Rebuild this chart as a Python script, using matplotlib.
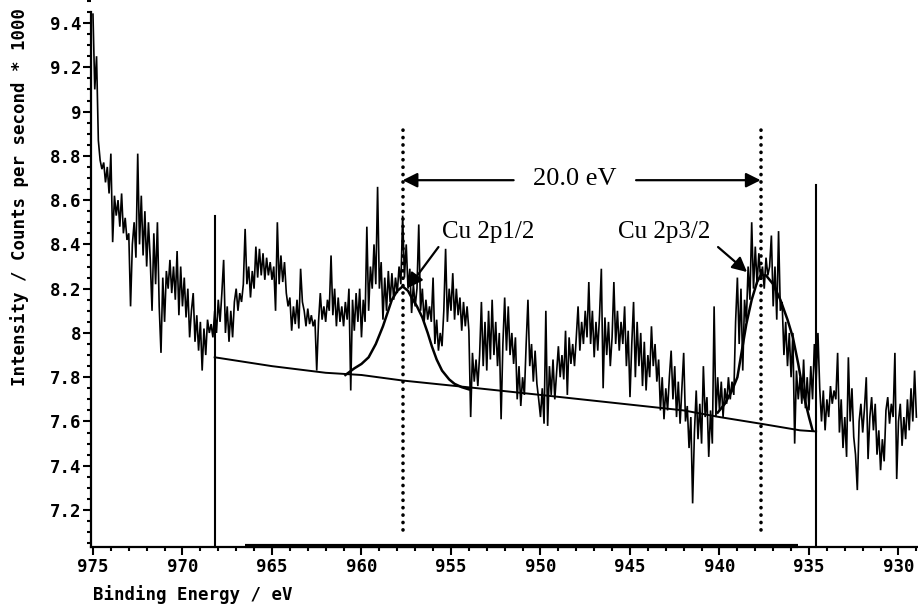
import numpy as np
import matplotlib
matplotlib.use("Agg")
import matplotlib.pyplot as plt
from matplotlib.ticker import MultipleLocator, FixedLocator, FixedFormatter

# ---------------- data ----------------
E_START = 975.0   # eV, first channel
E_STEP = 0.1      # eV per channel (decreasing binding energy)

counts = [
    9.44, 9.10, 9.25, 8.87, 8.78, 8.74, 8.77, 8.68, 8.75, 8.63,   # 975.0-974.1
    8.81, 8.41, 8.62, 8.53, 8.60, 8.48, 8.63, 8.45, 8.52, 8.42,   # 974.0-973.1
    8.45, 8.12, 8.40, 8.50, 8.34, 8.81, 8.40, 8.62, 8.35, 8.55,   # 973.0-972.1
    8.30, 8.50, 8.33, 8.10, 8.45, 8.22, 8.50, 8.12, 7.91, 8.25,   # 972.0-971.1
    8.05, 8.28, 8.20, 8.33, 8.18, 8.30, 8.15, 8.37, 8.08, 8.30,   # 971.0-970.1
    8.12, 8.25, 8.07, 8.20, 7.98, 8.10, 8.18, 7.96, 8.08, 7.92,   # 970.0-969.1
    8.05, 7.83, 8.02, 7.90, 8.06, 8.00, 8.04, 7.98, 8.10, 8.00,   # 969.0-968.1
    8.15, 8.05, 8.18, 8.33, 8.00, 8.12, 7.96, 8.10, 7.98, 8.14,   # 968.0-967.1
    8.20, 8.10, 8.18, 8.14, 8.22, 8.47, 8.22, 8.30, 8.16, 8.28,   # 967.0-966.1
    8.20, 8.39, 8.25, 8.38, 8.26, 8.36, 8.24, 8.34, 8.26, 8.32,   # 966.0-965.1
    8.24, 8.30, 8.10, 8.50, 8.22, 8.35, 8.23, 8.32, 8.18, 8.12,   # 965.0-964.1
    8.16, 8.01, 8.12, 8.04, 8.15, 8.02, 8.29, 8.14, 8.10, 8.03,   # 964.0-963.1
    8.11, 8.04, 8.08, 8.03, 8.06, 7.83, 8.05, 8.18, 8.06, 8.12,   # 963.0-962.1
    8.05, 8.15, 8.10, 8.35, 8.08, 8.20, 8.03, 8.16, 8.05, 8.12,   # 962.0-961.1
    8.03, 8.14, 8.06, 8.20, 7.74, 8.15, 8.01, 8.18, 8.05, 8.20,   # 961.0-960.1
    7.98, 8.15, 8.05, 8.48, 8.10, 8.30, 8.20, 8.40, 8.22, 8.66,   # 960.0-959.1
    8.20, 8.32, 8.06, 8.25, 8.10, 8.28, 8.14, 8.27, 8.15, 8.25,   # 959.0-958.1
    8.18, 8.30, 8.22, 8.53, 8.25, 8.40, 8.20, 8.29, 8.09, 8.22,   # 958.0-957.1
    8.12, 8.20, 8.49, 8.10, 8.20, 8.05, 8.15, 8.06, 8.12, 8.05,   # 957.0-956.1
    8.25, 7.95, 8.06, 7.92, 8.00, 7.94, 8.10, 8.38, 8.05, 8.20,   # 956.0-955.1
    8.10, 8.27, 8.06, 8.20, 8.08, 8.16, 8.01, 8.14, 8.03, 8.12,   # 955.0-954.1
    8.01, 7.62, 7.91, 7.78, 7.88, 7.76, 7.90, 8.14, 7.85, 8.05,   # 954.0-953.1
    7.83, 8.10, 7.88, 8.15, 7.90, 8.05, 7.85, 8.00, 7.61, 7.95,   # 953.0-952.1
    8.16, 7.92, 8.12, 7.90, 8.00, 7.86, 7.98, 7.70, 7.85, 7.67,   # 952.0-951.1
    7.80, 7.72, 7.95, 8.15, 7.85, 7.95, 7.78, 7.92, 7.77, 7.70,   # 951.0-950.1
    7.62, 7.75, 7.59, 8.10, 7.58, 7.85, 7.72, 7.88, 7.70, 7.82,   # 950.0-949.1
    7.94, 7.80, 7.90, 7.79, 8.01, 7.72, 7.98, 7.86, 7.95, 7.85,   # 949.0-948.1
    7.98, 8.12, 7.92, 8.05, 7.95, 8.10, 7.98, 8.23, 7.95, 8.10,   # 948.0-947.1
    7.89, 8.05, 7.92, 8.08, 8.29, 7.75, 8.07, 7.90, 8.05, 7.85,   # 947.0-946.1
    7.98, 8.23, 7.95, 8.10, 7.92, 8.05, 7.95, 8.12, 7.85, 8.01,   # 946.0-945.1
    7.71, 7.95, 8.14, 7.80, 8.05, 7.85, 8.00, 7.76, 7.96, 7.74,   # 945.0-944.1
    7.90, 7.80, 8.03, 7.85, 7.95, 7.78, 7.88, 7.65, 7.80, 7.61,   # 944.0-943.1
    7.75, 7.65, 7.80, 7.92, 7.70, 7.85, 7.62, 7.78, 7.59, 7.75,   # 943.0-942.1
    7.91, 7.60, 7.67, 7.48, 7.62, 7.23, 7.55, 7.74, 7.52, 7.68,   # 942.0-941.1
    7.50, 7.85, 7.62, 7.71, 7.44, 7.65, 7.50, 8.12, 7.62, 7.80,   # 941.0-940.1
    7.65, 7.78, 7.62, 7.75, 7.68, 7.80, 7.70, 7.78, 7.72, 8.05,   # 940.0-939.1
    8.25, 7.95, 8.20, 7.83, 8.15, 8.05, 8.30, 8.15, 8.50, 8.20,   # 939.0-938.1
    8.39, 8.22, 8.36, 8.24, 8.30, 8.20, 8.34, 8.26, 8.30, 8.44,   # 938.0-937.1
    8.12, 8.30, 8.06, 8.46, 8.10, 8.14, 7.90, 8.05, 7.85, 8.00,   # 937.0-936.1
    7.80, 8.00, 7.50, 7.83, 7.70, 7.80, 7.68, 7.88, 7.66, 7.80,   # 936.0-935.1
    7.65, 7.85, 7.70, 7.95, 7.78, 8.00, 7.75, 7.60, 7.74, 7.56,   # 935.0-934.1
    7.70, 7.62, 7.76, 7.68, 7.74, 7.70, 7.91, 7.55, 7.70, 7.48,   # 934.0-933.1
    7.62, 7.44, 7.89, 7.60, 7.75, 7.53, 7.45, 7.29, 7.60, 7.68,   # 933.0-932.1
    7.55, 7.66, 7.80, 7.43, 7.62, 7.71, 7.56, 7.68, 7.45, 7.56,   # 932.0-931.1
    7.38, 7.52, 7.42, 7.65, 7.71, 7.59, 7.68, 7.62, 7.91, 7.34,   # 931.0-930.1
    7.60, 7.68, 7.49, 7.62, 7.52, 7.70, 7.56, 7.75, 7.60, 7.83,   # 930.0-929.1
    7.62,                                                         # 929.0
]

# linear (Shirley-like) background under the fit
baseline_e = [968.2, 965.0, 962.0, 960.0, 957.7, 953.5, 950.0, 946.0, 942.0, 940.0, 937.7, 935.5, 934.6]
baseline_v = [7.89, 7.85, 7.82, 7.81, 7.785, 7.75, 7.72, 7.685, 7.65, 7.62, 7.59, 7.56, 7.555]

# fitted Cu 2p1/2 component
peak1_e = [960.9, 960.4, 960.0, 959.6, 959.2, 958.8, 958.3, 958.0, 957.7, 957.4, 957.2,
           956.9, 956.6, 956.3, 956.07, 955.8, 955.5, 955.1, 954.8, 954.4, 954.0]
peak1_v = [7.81, 7.84, 7.86, 7.89, 7.95, 8.03, 8.15, 8.19, 8.21, 8.19, 8.16,
           8.12, 8.07, 8.00, 7.94, 7.88, 7.83, 7.79, 7.77, 7.755, 7.745]

# fitted Cu 2p3/2 component
peak2_e = [940.1, 939.7, 939.3, 939.0, 938.75, 938.5, 938.2, 937.9, 937.7, 937.4,
           937.0, 936.6, 936.2, 935.9, 935.6, 935.3, 935.0, 934.8]
peak2_v = [7.64, 7.68, 7.74, 7.80, 7.92, 8.04, 8.15, 8.23, 8.26, 8.26,
           8.22, 8.15, 8.06, 7.98, 7.86, 7.72, 7.62, 7.56]

peak_positions = [957.7, 937.7]      # eV, dotted markers
marker_lines = [968.2, 934.6]        # region limits
marker_tops = [8.53, 8.67]

y_ticks = [7.2, 7.4, 7.6, 7.8, 8.0, 8.2, 8.4, 8.6, 8.8, 9.0, 9.2, 9.4]
y_ticklabels = ["7.2", "7.4", "7.6", "7.8", "8", "8.2", "8.4", "8.6", "8.8", "9", "9.2", "9.4"]
x_ticks = [975, 970, 965, 960, 955, 950, 945, 940, 935, 930]
x_ticklabels = [str(v) for v in x_ticks]

# ---------------- figure ----------------
MONO = ["DejaVu Sans Mono"]
SERIF = ["Liberation Serif", "DejaVu Serif"]

fig = plt.figure(figsize=(9.18, 6.07), dpi=100)
ax = fig.add_axes([91 / 918, 1 - 547 / 607, 1 - 91 / 918, 547 / 607])

XMIN, XMAX = 975.11, 928.91
YMIN, YMAX = 7.033, 9.504
ax.set_xlim(XMIN, XMAX)
ax.set_ylim(YMIN, YMAX)

energy = E_START - E_STEP * np.arange(len(counts))
ax.plot(energy, counts, color="black", lw=1.2, solid_joinstyle="miter")

ax.plot(baseline_e, baseline_v, color="black", lw=1.4)
ax.plot(peak1_e, peak1_v, color="black", lw=1.8)
ax.plot(peak2_e, peak2_v, color="black", lw=1.8)

for xe, top in zip(marker_lines, marker_tops):
    ax.plot([xe, xe], [YMIN, top], color="black", lw=1.5, clip_on=False)

# thick bottom segment
ax.plot([966.5, 935.6], [YMIN + 0.004, YMIN + 0.004], color="black", lw=3.0,
        solid_capstyle="butt", clip_on=False)

for pe in peak_positions:
    ax.plot([pe, pe], [7.11, 8.93], color="black", lw=2.6,
            linestyle=(0, (0.05, 2.0)), dash_capstyle="round")

# 20.0 eV separation arrows
arrow_kw = dict(arrowstyle="-|>", color="black", lw=1.6, mutation_scale=22,
                shrinkA=0, shrinkB=0)
ax.annotate("", xy=(peak_positions[0], 8.69), xytext=(951.5, 8.69), arrowprops=arrow_kw)
ax.annotate("", xy=(peak_positions[1], 8.69), xytext=(944.66, 8.69), arrowprops=arrow_kw)
ax.text(948.07, 8.668, "20.0 eV", family=SERIF, fontsize=19, ha="center", va="baseline")

# peak labels
ax.text(955.5, 8.429, "Cu 2p1/2", family=SERIF, fontsize=18, ha="left", va="baseline")
ax.annotate("", xy=(957.4, 8.203), xytext=(955.7, 8.388), arrowprops=arrow_kw)
ax.text(945.67, 8.429, "Cu 2p3/2", family=SERIF, fontsize=18, ha="left", va="baseline")
ax.annotate("", xy=(938.46, 8.275), xytext=(940.08, 8.388), arrowprops=arrow_kw)

# axes styling
for s in ("top", "right"):
    ax.spines[s].set_visible(False)
ax.spines["left"].set_linewidth(1.6)
ax.spines["bottom"].set_linewidth(1.6)
ax.spines["left"].set_bounds(YMIN, 9.45)

ax.yaxis.set_major_locator(FixedLocator(y_ticks))
ax.yaxis.set_major_formatter(FixedFormatter(y_ticklabels))
ax.yaxis.set_minor_locator(MultipleLocator(0.05))
ax.xaxis.set_major_locator(FixedLocator(x_ticks))
ax.xaxis.set_major_formatter(FixedFormatter(x_ticklabels))
ax.xaxis.set_minor_locator(MultipleLocator(1))

ax.tick_params(axis="both", which="major", direction="out", length=6, width=1.5, color="black")
ax.tick_params(axis="both", which="minor", direction="out", length=3, width=1.5, color="black")
ax.tick_params(axis="x", which="major", pad=2)
ax.tick_params(axis="y", which="major", pad=1)
for lab in ax.get_xticklabels() + ax.get_yticklabels():
    lab.set_family(MONO)
    lab.set_fontweight("bold")
    lab.set_fontsize(12.5)

fig.text(20 / 918, 1 - 197 / 607, "Intensity / Counts per second * 1000", family=MONO,
         fontweight="bold", fontsize=12.5, rotation=90, ha="center", va="center")
fig.text(93 / 918, 1 - 595 / 607, "Binding Energy / eV", family=MONO,
         fontweight="bold", fontsize=12.5, ha="left", va="center")

fig.savefig("out.png", dpi=100)
